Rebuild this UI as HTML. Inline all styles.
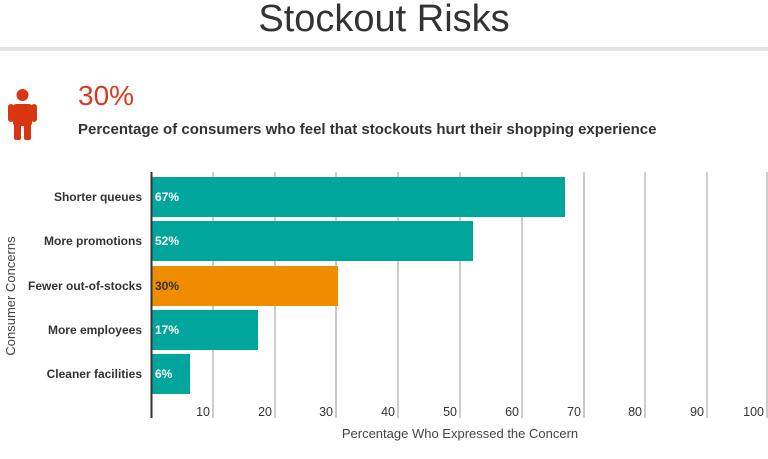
<!DOCTYPE html>
<html><head><meta charset="utf-8"><style>
body{margin:0;width:768px;height:459px;background:#fff;font-family:"Liberation Sans",sans-serif;overflow:hidden;position:relative}
.a{position:absolute}
</style></head><body>
<div class="a" style="left:0;width:768px;top:-2px;text-align:center;font-size:38px;color:#333">Stockout Risks</div>
<div class="a" style="left:0;top:47px;width:768px;height:4px;background:#e3e3e3"></div>
<svg class="a" style="left:0;top:0" width="768" height="459">
<g fill="#d9360f">
<circle cx="22.5" cy="95" r="6"/>
<rect x="13" y="104" width="19" height="22" rx="3"/>
<rect x="8" y="104" width="6" height="18" rx="3"/>
<rect x="31" y="104" width="6" height="18" rx="3"/>
<rect x="14" y="112" width="7" height="28" rx="2"/>
<rect x="24" y="112" width="7" height="28" rx="2"/>
</g>
<g stroke="#999" stroke-width="1">
<line x1="213" y1="172" x2="213" y2="418"/><line x1="275" y1="172" x2="275" y2="418"/>
<line x1="336" y1="172" x2="336" y2="418"/><line x1="398" y1="172" x2="398" y2="418"/>
<line x1="460" y1="172" x2="460" y2="418"/><line x1="522" y1="172" x2="522" y2="418"/>
<line x1="584" y1="172" x2="584" y2="418"/><line x1="645" y1="172" x2="645" y2="418"/>
<line x1="707" y1="172" x2="707" y2="418"/><line x1="767" y1="172" x2="767" y2="418"/>
</g>
<rect x="152" y="177" width="413" height="40" fill="#00a69c"/>
<rect x="152" y="221" width="321" height="40" fill="#00a69c"/>
<rect x="152" y="266" width="186" height="40" fill="#f08c00"/>
<rect x="152" y="310" width="106" height="40" fill="#00a69c"/>
<rect x="152" y="354" width="38" height="40" fill="#00a69c"/>
<line x1="151.5" y1="172" x2="151.5" y2="418" stroke="#333" stroke-width="2"/>
<g font-size="12" font-weight="bold" fill="#fff">
<text x="155" y="201">67%</text><text x="155" y="245">52%</text>
<text x="155" y="290" fill="#333">30%</text><text x="155" y="334">17%</text><text x="155" y="378">6%</text>
</g>
<g font-size="12" font-weight="bold" fill="#333" text-anchor="end">
<text x="142" y="201">Shorter queues</text><text x="142" y="245">More promotions</text>
<text x="142" y="290">Fewer out-of-stocks</text><text x="142" y="334">More employees</text>
<text x="142" y="378">Cleaner facilities</text>
</g>
<g font-size="12.5" fill="#333" text-anchor="end">
<text x="210" y="416">10</text><text x="272" y="416">20</text><text x="333" y="416">30</text>
<text x="395" y="416">40</text><text x="457" y="416">50</text><text x="519" y="416">60</text>
<text x="581" y="416">70</text><text x="642" y="416">80</text><text x="704" y="416">90</text>
<text x="764" y="416">100</text>
</g>
<text x="460" y="438" font-size="13" fill="#444" text-anchor="middle">Percentage Who Expressed the Concern</text>
<text transform="translate(15,296) rotate(-90)" font-size="13" fill="#444" text-anchor="middle">Consumer Concerns</text>
</svg>
<div class="a" style="left:78px;top:80px;font-size:28px;color:#d9391c">30%</div>
<div class="a" style="left:78px;top:121px;font-size:15px;font-weight:bold;color:#333">Percentage of consumers who feel that stockouts hurt their shopping experience</div>
</body></html>
